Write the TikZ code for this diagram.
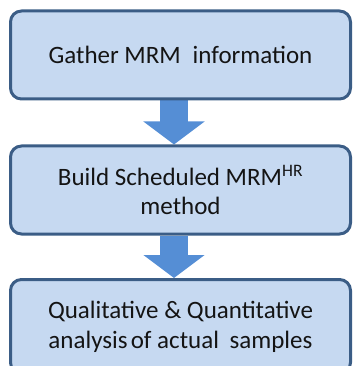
\documentclass[tikz,border=0pt]{standalone}
\usepackage{fontspec}
\setmainfont{Carlito}
\usetikzlibrary{arrows.meta,backgrounds}
\definecolor{boxfill}{HTML}{C6D9F1}
\definecolor{boxline}{HTML}{3B5D86}
\definecolor{arrowfill}{HTML}{558ED5}
\definecolor{txt}{HTML}{141414}
\tikzset{
  stepbox/.style={draw=boxline, fill=boxfill, line width=3pt, rounded corners=11pt,
    minimum width=340pt, minimum height=88pt, inner sep=0pt, align=center,
    text=txt, font=\fontsize{25}{29}\selectfont},
  flowarrow/.style={draw=arrowfill, line width=28pt,
    -{Triangle[width=60pt,length=23pt,fill=arrowfill]}}
}
\begin{document}
\begin{tikzpicture}[x=1pt,y=-1pt]
\useasboundingbox (0,0) rectangle (353,366);
\clip (0,0) rectangle (353,366);
\node[stepbox] (b1) at (180.5,55) {Gather MRM\hspace{0.25em} information};
\node[stepbox] (b2) at (180.5,190) {Build Scheduled MRM\textsuperscript{HR}\\method};
\node[stepbox, minimum height=94pt, font=\fontsize{25}{30}\selectfont] (b3) at (180.5,326.5) {Qualitative \& Quantitative\\analysis\hspace{-0.1em} of actual\hspace{0.2em} samples};
\begin{scope}[on background layer]
\draw[flowarrow] (b1.south -| 174,0) -- (b2.north -| 174,0);
\draw[flowarrow] (b2.south -| 174,0) -- (b3.north -| 174,0);
\end{scope}
\end{tikzpicture}
\end{document}
